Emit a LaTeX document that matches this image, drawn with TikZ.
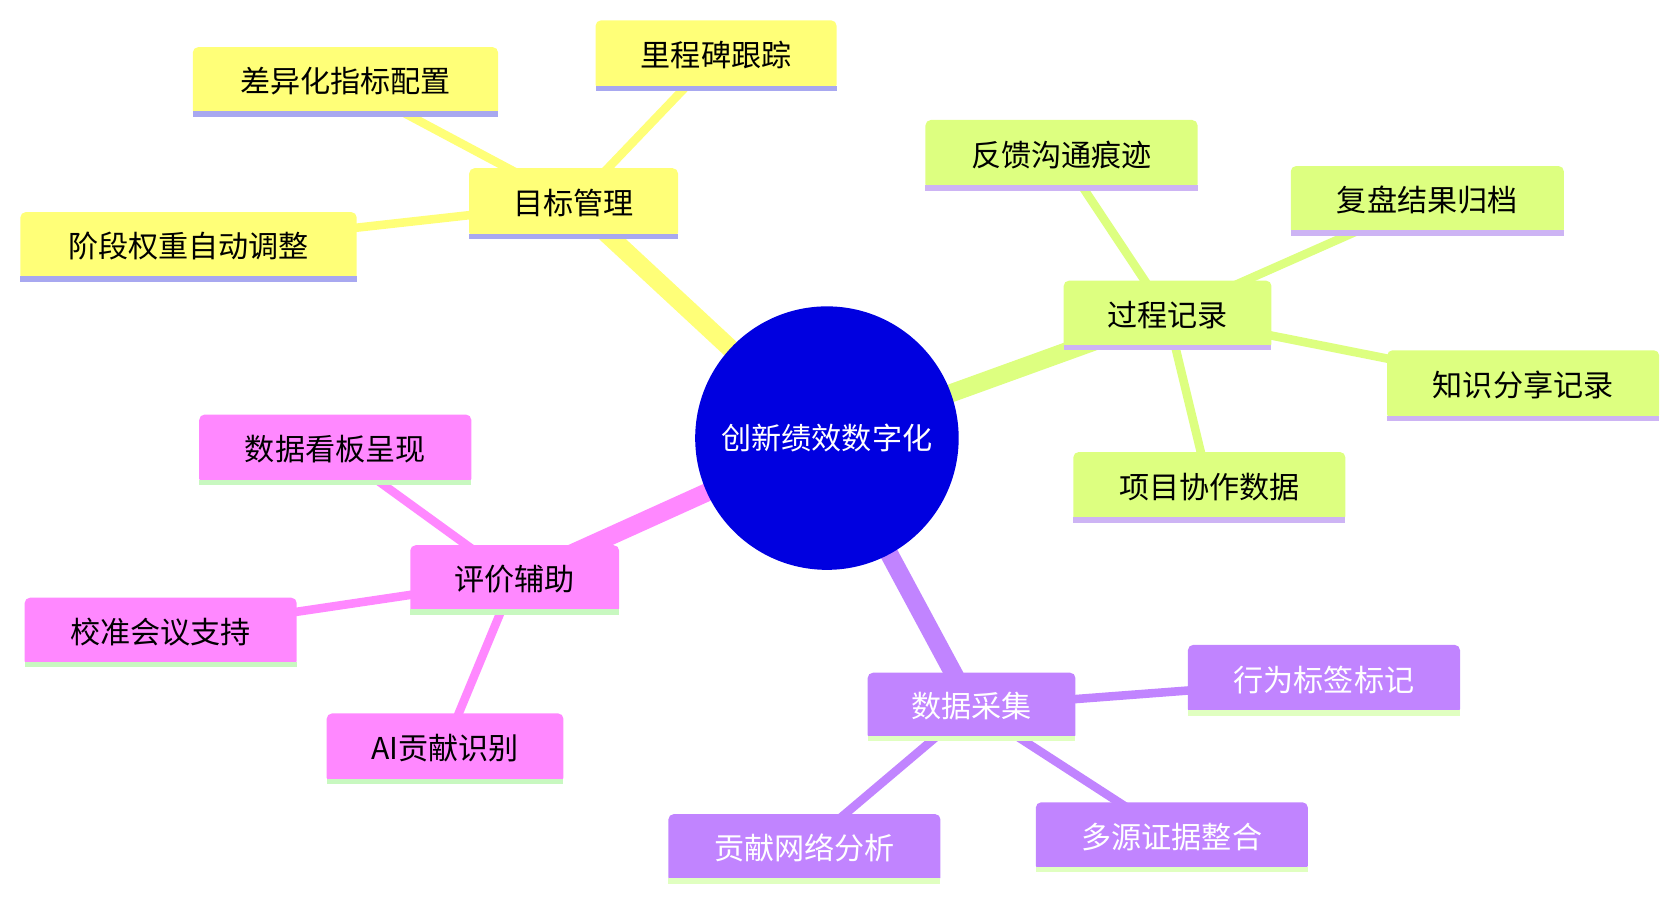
\documentclass[tikz,border=0pt]{standalone}
\usepackage{fontspec}
\setmainfont{Noto Sans CJK SC}
\definecolor{cy}{HTML}{FFFF78}
\definecolor{cyl}{HTML}{FFFF70}
\definecolor{uy}{HTML}{A8A8F0}
\definecolor{cg}{HTML}{DDFF80}
\definecolor{ug}{HTML}{CDB4F4}
\definecolor{cp}{HTML}{FF88FF}
\definecolor{up}{HTML}{C8F8C0}
\definecolor{cv}{HTML}{C184FF}
\definecolor{uv}{HTML}{E0FFC0}
\definecolor{cc}{HTML}{0000E0}
\begin{document}
\begin{tikzpicture}[x=0.05cm,y=-0.05cm,
  bx/.style={rounded corners=0.25cm,inner sep=0,font=\fontsize{40}{48}\selectfont},
  root/.style={circle,fill=cc,minimum size=12.3cm,inner sep=0,text=white,font=\fontsize{40}{48}\selectfont},
  me/.style={line width=0.85cm},
  ce/.style={line width=0.4cm}]
\useasboundingbox (0,0) rectangle (1560,837);
\newcommand{\bxn}[8]{%
  \path[bx,fill=#6] (#2,#3) rectangle (#4,#5);
  \node[font=\fontsize{40}{48}\selectfont,text=#8] (#1) at ({(#2+#4)/2},{(#3+#5)/2}) {#7};
}
\newcommand{\ul}[5]{\fill[#5] (#1,#4-4) rectangle (#2,#4+1);}
% edges
\draw[me,cy] (772,409) -- (536,190);
\draw[ce,cy] (536,190) -- (322,76);
\draw[ce,cy] (536,190) -- (668,52);
\draw[ce,cy] (536,190) -- (176,230);
\draw[me,cg] (772,409) -- (1090,294);
\draw[ce,cg] (1090,294) -- (991,145);
\draw[ce,cg] (1090,294) -- (1332,187);
\draw[ce,cg] (1090,294) -- (1422,360);
\draw[ce,cg] (1090,294) -- (1129,455);
\draw[me,cp] (772,409) -- (480,541);
\draw[ce,cp] (480,541) -- (313,420);
\draw[ce,cp] (480,541) -- (150,590);
\draw[ce,cp] (480,541) -- (415,698);
\draw[me,cv] (772,409) -- (907,660);
\draw[ce,cv] (907,660) -- (1236,635);
\draw[ce,cv] (907,660) -- (1094,781);
\draw[ce,cv] (907,660) -- (751,792);
\node[root] (c) at (772,409) {创新绩效数字化};
% boxes
\bxn{g}{438}{157}{633}{222}{cy}{目标管理}{black}\ul{438}{633}{}{222}{uy}
\bxn{g1}{180}{44}{465}{108}{cy}{差异化指标配置}{black}\ul{180}{465}{}{108}{uy}
\bxn{g2}{556}{19}{781}{84}{cy}{里程碑跟踪}{black}\ul{556}{781}{}{84}{uy}
\bxn{g3}{19}{198}{333}{262}{cy}{阶段权重自动调整}{black}\ul{19}{333}{}{262}{uy}
\bxn{p}{993}{262}{1187}{326}{cg}{过程记录}{black}\ul{993}{1187}{}{326}{ug}
\bxn{p1}{864}{112}{1118}{177}{cg}{反馈沟通痕迹}{black}\ul{864}{1118}{}{177}{ug}
\bxn{p2}{1205}{155}{1460}{219}{cg}{复盘结果归档}{black}\ul{1205}{1460}{}{219}{ug}
\bxn{p3}{1295}{327}{1549}{392}{cg}{知识分享记录}{black}\ul{1295}{1549}{}{392}{ug}
\bxn{p4}{1002}{422}{1256}{487}{cg}{项目协作数据}{black}\ul{1002}{1256}{}{487}{ug}
\bxn{e}{383}{509}{578}{573}{cp}{评价辅助}{black}\ul{383}{578}{}{573}{up}
\bxn{e1}{186}{387}{440}{452}{cp}{数据看板呈现}{black}\ul{186}{440}{}{452}{up}
\bxn{e2}{23}{558}{277}{622}{cp}{校准会议支持}{black}\ul{23}{277}{}{622}{up}
\bxn{e3}{305}{666}{526}{731}{cp}{AI贡献识别}{black}\ul{305}{526}{}{731}{up}
\bxn{d}{810}{628}{1004}{691}{cv}{数据采集}{white}\ul{810}{1004}{}{691}{uv}
\bxn{d1}{1109}{602}{1363}{667}{cv}{行为标签标记}{white}\ul{1109}{1363}{}{667}{uv}
\bxn{d2}{967}{749}{1221}{813}{cv}{多源证据整合}{white}\ul{967}{1221}{}{813}{uv}
\bxn{d3}{624}{760}{878}{824}{cv}{贡献网络分析}{white}\ul{624}{878}{}{824}{uv}
\end{tikzpicture}
\end{document}
